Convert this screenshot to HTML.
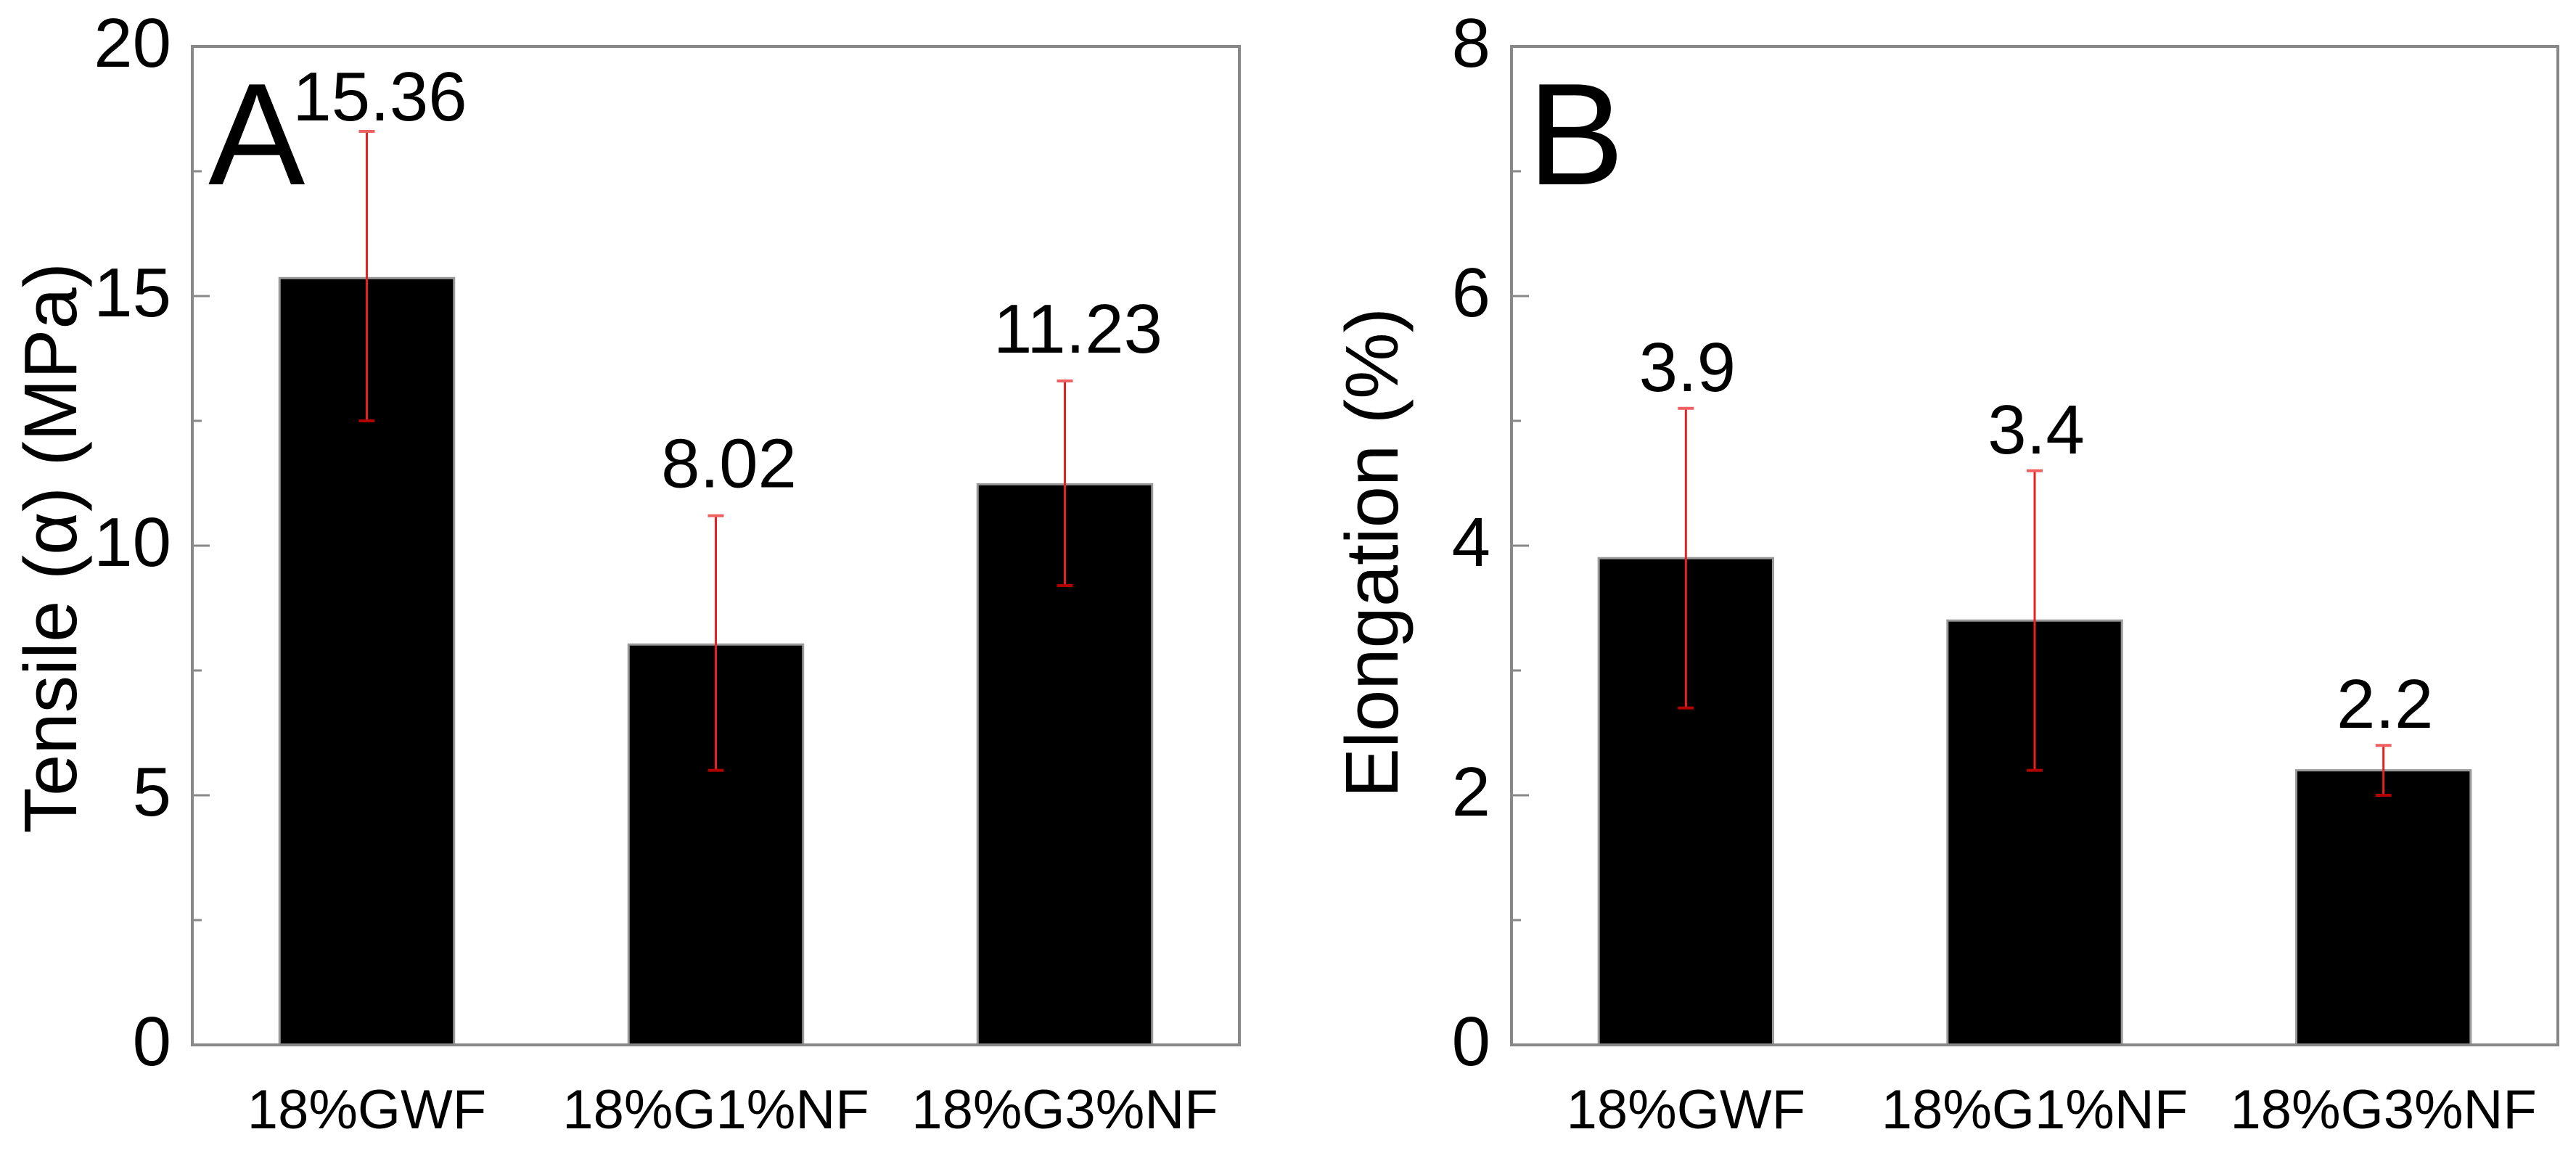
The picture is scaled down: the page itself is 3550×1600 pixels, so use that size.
<!DOCTYPE html>
<html><head><meta charset="utf-8"><style>
html,body{margin:0;padding:0;background:#fff;}
svg text{font-family:"Liberation Sans",sans-serif;fill:#000;}
</style></head><body>
<svg id="chart" xmlns="http://www.w3.org/2000/svg" width="3550" height="1595" viewBox="0 0 3550 1595"></svg>
<script>
const categories = ["18%GWF","18%G1%NF","18%G3%NF"];
const tensileValues = [15.36, 8.02, 11.23];
const tensileErrLow = [12.5, 5.5, 9.2];
const tensileErrHigh = [18.3, 10.6, 13.3];
const tensileLabels = ["15.36","8.02","11.23"];
const tensileTicks = [0,5,10,15,20];
const elongValues = [3.9, 3.4, 2.2];
const elongErrLow = [2.7, 2.2, 2.0];
const elongErrHigh = [5.1, 4.6, 2.4];
const elongLabels = ["3.9","3.4","2.2"];
const elongTicks = [0,2,4,6,8];

const NS = "http://www.w3.org/2000/svg";
const svg = document.getElementById('chart');
function mk(tag, attrs, parent){
  const e = document.createElementNS(NS, tag);
  for (const k in attrs) e.setAttribute(k, attrs[k]);
  (parent||svg).appendChild(e);
  return e;
}
function panel(opt){
  const g = mk('g', {});
  
  
  const L=opt.left, R=opt.right, T=64, B=1440, W=R-L;
  const ymax = opt.ticks[opt.ticks.length-1];
  const y = v => B - (v/ymax)*(B-T);
  const x = i => L + W*(1/6 + i/3);
  const bw = W/6;
  // bars
  for (let i=0;i<categories.length;i++){
    const cx = x(i), v = opt.values[i];
    const b = mk('rect', {x:cx-bw/2, y:y(v), width:bw, height:B-y(v), fill:'#000', stroke:'#999','stroke-width':3}, g);
    
    
  }
  // frame
  const fr = mk('rect', {x:L, y:T, width:W, height:B-T, fill:'none', stroke:'#888', 'stroke-width':4}, g);
  
  
  // ticks
  for (let i=0;i<opt.ticks.length;i++){
    const t = opt.ticks[i];
    const tk = mk('line', {x1:L, x2:L+24, y1:y(t), y2:y(t), stroke:'#888','stroke-width':3}, g);
    
    
    if (i < opt.ticks.length-1){
      const mid = (t + opt.ticks[i+1])/2;
      const mt = mk('line', {x1:L, x2:L+13, y1:y(mid), y2:y(mid), stroke:'#888','stroke-width':3}, g);
      
      
    }
    const tl = mk('text', {x:L-29, y:y(t)+28, 'font-size':96, 'text-anchor':'end'}, g);
    tl.textContent = t;
    
    
  }
  for (let i=0;i<categories.length;i++){
    const cx = x(i);
    const eg = mk('g', {stroke:'#e82020','stroke-width':3}, g);
    
    
    mk('line', {x1:cx, x2:cx, y1:y(opt.lo[i]), y2:y(opt.hi[i])}, eg);
    mk('line', {x1:cx-11, x2:cx+11, y1:y(opt.lo[i]), y2:y(opt.lo[i]), stroke:'#b00000','stroke-width':4}, eg);
    mk('line', {x1:cx-11, x2:cx+11, y1:y(opt.hi[i]), y2:y(opt.hi[i]), stroke:'#f06060','stroke-width':4}, eg);
    const ly = Math.max(y(opt.hi[i]) - opt.gap, T + 102);
    const vl = mk('text', {x:cx+opt.dx, y:ly, 'font-size':96, 'text-anchor':'middle'}, g);
    vl.textContent = opt.labels[i];
    
    
    const xl = mk('text', {x:cx, y:1555, 'font-size':76, 'text-anchor':'middle'}, g);
    xl.textContent = categories[i];
    
    
  }
  const yt = mk('text', {x:0, y:0, 'font-size':103, 'text-anchor':'end', transform:'translate('+opt.titleX+','+opt.titleTop+') rotate(-90)'}, g);
  yt.textContent = opt.title;
  
  
  const pl = mk('text', {x:L+opt.letterDx, y:254, 'font-size':200}, g);
  pl.textContent = opt.letter;
  
  
}
panel({name:'panel-a-tensile', left:265, right:1708, ticks:tensileTicks, values:tensileValues, lo:tensileErrLow, hi:tensileErrHigh, labels:tensileLabels, title:'Tensile (\u03B1) (MPa)', titleX:105, titleTop:362, letter:'A', letterDx:22, gap:39, dx:18});
panel({name:'panel-b-elongation', left:2083, right:3525, ticks:elongTicks, values:elongValues, lo:elongErrLow, hi:elongErrHigh, labels:elongLabels, title:'Elongation (%)', titleX:1926, titleTop:424, letter:'B', letterDx:22, gap:24, dx:2});
</script>
</body></html>
